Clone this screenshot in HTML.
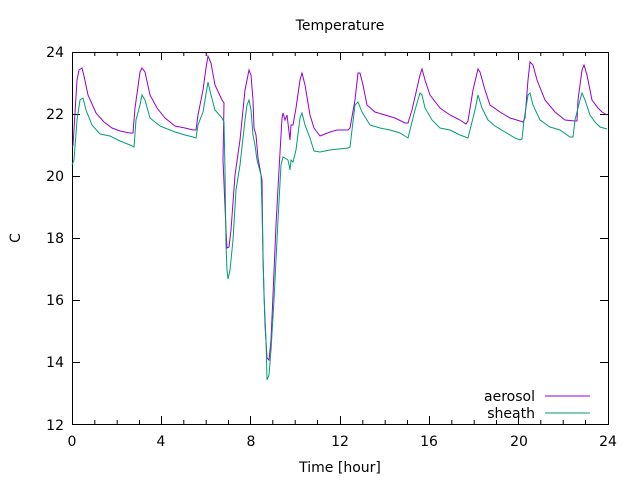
<!DOCTYPE html>
<html><head><style>body{margin:0;background:#fff}svg{display:block}text{font-family:"DejaVu Sans","Liberation Sans",sans-serif;font-size:14px;fill:#000}</style></head>
<body>
<svg width="640" height="480" viewBox="0 0 640 480">
<rect x="72.5" y="52.5" width="536" height="372" fill="none" stroke="#000" stroke-width="1"/>
<g stroke="#000" stroke-width="1">
<path d="M72,52.5h8M72,114.5h8M72,176.5h8M72,238.5h8M72,300.5h8M72,362.5h8M608,52.5h-8M608,114.5h-8M608,176.5h-8M608,238.5h-8M608,300.5h-8M608,362.5h-8"/>
<path d="M72.5,424v-8M161.5,424v-8M250.5,424v-8M340.5,424v-8M429.5,424v-8M518.5,424v-8M72.5,52v8M161.5,52v8M250.5,52v8M340.5,52v8M429.5,52v8M518.5,52v8"/>
<path d="M94.8,424v-4M117.2,424v-4M139.5,424v-4M183.8,424v-4M206.2,424v-4M228.5,424v-4M272.8,424v-4M295.2,424v-4M317.5,424v-4M362.8,424v-4M385.2,424v-4M407.5,424v-4M451.8,424v-4M474.2,424v-4M496.5,424v-4M540.8,424v-4M563.2,424v-4M585.5,424v-4M94.8,52v4M117.2,52v4M139.5,52v4M183.8,52v4M206.2,52v4M228.5,52v4M272.8,52v4M295.2,52v4M317.5,52v4M362.8,52v4M385.2,52v4M407.5,52v4M451.8,52v4M474.2,52v4M496.5,52v4M540.8,52v4M563.2,52v4M585.5,52v4"/>
</g>
<g text-anchor="end">
<text x="64" y="57">24</text><text x="64" y="119">22</text><text x="64" y="181">20</text><text x="64" y="243">18</text><text x="64" y="305">16</text><text x="64" y="367">14</text><text x="64" y="430">12</text>
</g>
<g text-anchor="middle">
<text x="72" y="446">0</text><text x="161" y="446">4</text><text x="251" y="446">8</text><text x="340" y="446">12</text><text x="429" y="446">16</text><text x="519" y="446">20</text><text x="608" y="446">24</text>
<text x="340" y="472">Time [hour]</text>
<text x="340" y="30">Temperature</text>
<text x="20" y="238" transform="rotate(-90 20 238)">C</text>
</g>
<text x="535" y="401" text-anchor="end">aerosol</text>
<text x="535" y="418" text-anchor="end">sheath</text>
<path d="M545,396h45" stroke="#9400d3"/>
<path d="M545,413h45" stroke="#009e73"/>
<polyline fill="none" stroke="#9400d3" stroke-width="1" points="72,146 73,146 77,80 79,70 82,68 84,76 88,95 96,113 104,122 112,128 120,131 130,133 133,133 135,108 140,72 142,68 145,72 150,95 157,108 165,118 175,126 185,128 193,130 196,130 198,115 203,90 206,68 208,56 211,63 215,85 222,100 224,103 223,160 226,230 227,248 229,247 231,230 235,175 240,140 245,90 247,80 249,70 251,75 253,100 254,128 256,135 258,158 262,180 263,260 265,325 267,358 269,360 271,340 273,295 276,225 279,170 282,118 283,113 285,120 287,115 290,140 291,125 293,125 296,108 300,80 302,73 305,85 310,115 314,128 320,136 330,132 337,130 348,130 350,128 355,100 358,73 360,73 363,85 367,105 375,112 385,115 395,118 405,123 408,123 412,110 420,75 422,69 425,80 430,95 440,108 450,115 460,120 466,124 468,121 473,90 478,69 480,72 485,90 490,105 500,112 510,118 520,121 523,122 525,118 528,80 530,62 533,65 537,80 545,100 555,112 565,120 575,121 577,121 578,100 582,70 584,65 587,75 592,100 598,108 602,112 607,115"/>
<polyline fill="none" stroke="#009e73" stroke-width="1" points="72,165 74,160 77,120 80,100 83,98 86,110 92,125 100,134 110,136 120,141 130,145 134,147 136,120 140,105 142,95 145,100 150,118 160,126 175,132 185,135 193,137 196,138 198,125 203,112 205,100 208,82 211,95 215,110 222,118 224,122 225,170 226,245 227,270 228,279 230,270 233,240 236,190 240,165 245,120 247,105 249,100 251,110 253,135 255,145 257,160 261,175 262,210 264,295 266,340 267,380 269,375 271,350 274,300 278,220 281,165 283,157 285,158 288,160 290,170 291,160 293,162 296,150 300,118 302,113 305,125 310,138 314,151 320,152 330,150 348,148 350,147 352,130 355,105 358,102 362,112 370,125 380,128 390,130 400,133 408,138 410,130 415,110 420,93 422,95 425,108 432,120 440,128 450,130 460,135 468,138 470,130 475,110 478,95 482,108 488,120 495,126 505,132 515,138 520,140 522,139 524,120 528,95 530,93 533,105 540,120 550,127 560,130 570,137 573,137 575,120 580,100 582,93 585,100 590,115 595,122 600,127 607,129"/>
</svg>
</body></html>
